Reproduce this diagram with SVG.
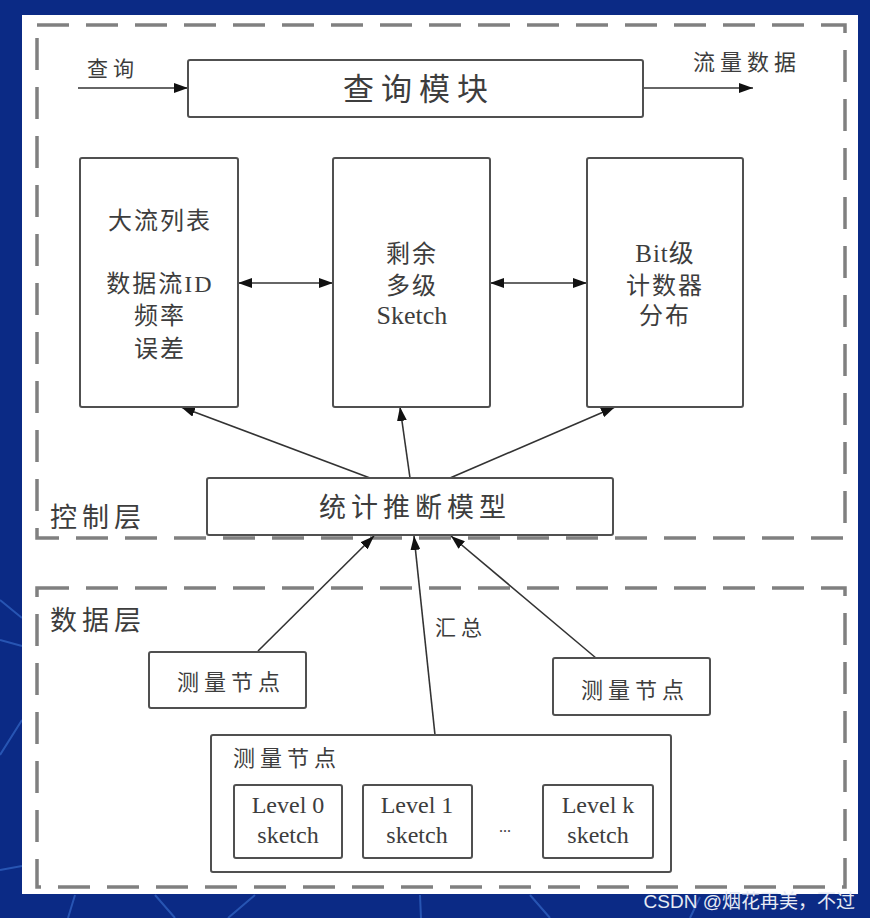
<svg xmlns="http://www.w3.org/2000/svg" width="870" height="918" viewBox="0 0 870 918">
<defs>
<marker id="arr" viewBox="0 0 14 10" refX="14" refY="5" markerWidth="14" markerHeight="10" markerUnits="userSpaceOnUse" orient="auto">
<path d="M0,0 L14,5 L0,10 Z" fill="#111"/>
</marker>
<marker id="arrs" viewBox="0 0 14 10" refX="14" refY="5" markerWidth="14" markerHeight="10" markerUnits="userSpaceOnUse" orient="auto-start-reverse">
<path d="M0,0 L14,5 L0,10 Z" fill="#111"/>
</marker>
<style>
.box{fill:#fff;stroke:#505050;stroke-width:2}
.dash{fill:none;stroke:#808080;stroke-width:3.5;stroke-dasharray:32 17}
.ln{stroke:#333;stroke-width:1.6;fill:none}
.t{font-family:"Liberation Serif","Noto Sans CJK SC",serif;fill:#3d3d3d}
.c{text-anchor:middle}
.bg{stroke:#3f78d8;stroke-width:2;opacity:0.55;fill:none}
</style>
</defs>
<rect x="0" y="0" width="870" height="918" fill="#0b2a85"/>
<g id="background-lines">
<path class="bg" d="M0,600 L22,618 M0,640 L22,646 M0,755 L22,720 M0,870 L22,866 M75,895 L68,918 M155,895 L175,918 M255,895 L228,918 M420,895 L421,918 M530,895 L550,918 M700,897 L690,918"/>
</g>
<rect x="22" y="15" width="836" height="879" fill="#fff"/>
<g id="control-layer">
<rect class="dash" x="37" y="25" width="808" height="513"/>
<text class="t" x="50" y="527" font-size="27" letter-spacing="5">控制层</text>
</g>
<g id="data-layer">
<rect class="dash" x="37" y="588" width="808" height="299"/>
<text class="t" x="50" y="630" font-size="27" letter-spacing="5">数据层</text>
</g>
<g id="connectors">
<line class="ln" x1="78" y1="88" x2="188" y2="88" marker-end="url(#arr)"/>
<line class="ln" x1="643" y1="88" x2="753" y2="88" marker-end="url(#arr)"/>
<line class="ln" x1="238" y1="283" x2="333" y2="283" marker-start="url(#arrs)" marker-end="url(#arrs)"/>
<line class="ln" x1="490" y1="283" x2="587" y2="283" marker-start="url(#arrs)" marker-end="url(#arrs)"/>
<line class="ln" x1="370" y1="478" x2="181" y2="407" marker-end="url(#arr)"/>
<line class="ln" x1="410" y1="478" x2="400" y2="407" marker-end="url(#arr)"/>
<line class="ln" x1="450" y1="478" x2="615" y2="407" marker-end="url(#arr)"/>
<line class="ln" x1="258" y1="651" x2="374" y2="536" marker-end="url(#arr)"/>
<line class="ln" x1="435" y1="735" x2="414" y2="536" marker-end="url(#arr)"/>
<line class="ln" x1="596" y1="658" x2="451" y2="536" marker-end="url(#arr)"/>
<text class="t" x="87" y="76" font-size="21" letter-spacing="5">查询</text>
<text class="t c" x="747" y="70" font-size="22" letter-spacing="5">流量数据</text>
<text class="t c" x="461" y="635" font-size="21" letter-spacing="5">汇总</text>
</g>
<g id="query-module">
<rect class="box" x="188" y="60" width="455" height="57" rx="2"/>
<text class="t c" x="419" y="100" font-size="31" letter-spacing="7">查询模块</text>
</g>
<g id="big-flow-list">
<rect class="box" x="80" y="158" width="158" height="249" rx="2"/>
<text class="t c" x="160" y="229" font-size="24" letter-spacing="2">大流列表</text>
<text class="t c" x="160" y="292" font-size="24" letter-spacing="2">数据流ID</text>
<text class="t c" x="160" y="324" font-size="24" letter-spacing="2">频率</text>
<text class="t c" x="160" y="357" font-size="24" letter-spacing="2">误差</text>
</g>
<g id="residual-sketch">
<rect class="box" x="333" y="158" width="157" height="249" rx="2"/>
<text class="t c" x="412" y="262" font-size="24" letter-spacing="2">剩余</text>
<text class="t c" x="412" y="294" font-size="24" letter-spacing="2">多级</text>
<text class="t c" x="412" y="324" font-size="26">Sketch</text>
</g>
<g id="bit-counter">
<rect class="box" x="587" y="158" width="156" height="249" rx="2"/>
<text class="t c" x="665" y="262" font-size="25" letter-spacing="1">Bit级</text>
<text class="t c" x="665" y="294" font-size="24" letter-spacing="2">计数器</text>
<text class="t c" x="665" y="324" font-size="24" letter-spacing="2">分布</text>
</g>
<g id="stat-model">
<rect class="box" x="207" y="478" width="406" height="57" rx="2"/>
<text class="t c" x="415" y="517" font-size="27" letter-spacing="5">统计推断模型</text>
</g>
<g id="node-left">
<rect class="box" x="149" y="652" width="157" height="56" rx="2"/>
<text class="t c" x="231" y="690" font-size="22" letter-spacing="5">测量节点</text>
</g>
<g id="node-right">
<rect class="box" x="553" y="658" width="157" height="57" rx="2"/>
<text class="t c" x="635" y="698" font-size="22" letter-spacing="5">测量节点</text>
</g>
<g id="node-main">
<rect class="box" x="211" y="735" width="460" height="137" rx="2"/>
<text class="t" x="233" y="766" font-size="22" letter-spacing="5">测量节点</text>
</g>
<g id="level0">
<rect class="box" x="234" y="785" width="108" height="73" rx="2"/>
<text class="t c" x="288" y="813" font-size="24">Level 0</text>
<text class="t c" x="288" y="843" font-size="24">sketch</text>
</g>
<g id="level1">
<rect class="box" x="363" y="785" width="109" height="73" rx="2"/>
<text class="t c" x="417" y="813" font-size="24">Level 1</text>
<text class="t c" x="417" y="843" font-size="24">sketch</text>
</g>
<text class="t c" x="505" y="832" font-size="16" fill="#777">...</text>
<g id="levelk">
<rect class="box" x="543" y="785" width="110" height="73" rx="2"/>
<text class="t c" x="598" y="813" font-size="24">Level k</text>
<text class="t c" x="598" y="843" font-size="24">sketch</text>
</g>
<text x="855" y="908" font-family="'Liberation Sans','Noto Sans CJK SC',sans-serif" font-size="19" fill="#e6eaf4" text-anchor="end">CSDN @烟花再美，不过</text>
</svg>
